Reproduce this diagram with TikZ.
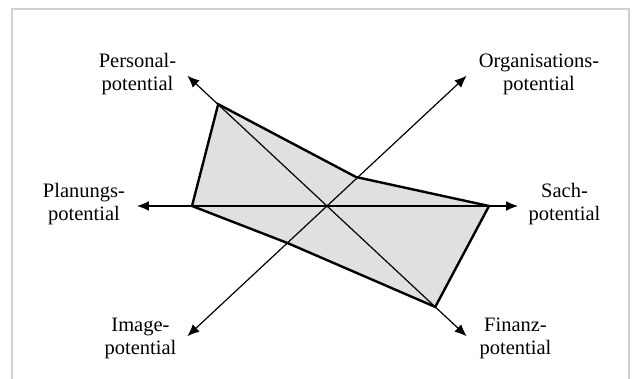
\documentclass[tikz,border=0pt]{standalone}
\usepackage{fontspec}
\setmainfont{Liberation Serif}
\usetikzlibrary{arrows.meta}
\begin{document}
\begin{tikzpicture}[x=1pt,y=1pt,>={Latex[length=12pt,width=10pt]},
    axis/.style={->,line width=1.4pt},
    area/.style={line width=2.4pt,line join=miter,fill=black!12},
    label/.style={align=center,font=\fontsize{20.5}{23}\selectfont,inner sep=0pt}]
      \useasboundingbox (-327,-172) rectangle (307,206);
      \draw[black!18,line width=2pt] (-315,-180) -- (-315,197) -- (302,197) -- (302,-180);
      \coordinate (O) at (0,0);
      % tips of the axes
      \coordinate (sach) at (0:191);
      \coordinate (org) at (43:191);
      \coordinate (pers) at (137:191);
      \coordinate (plan) at (180:190);
      \coordinate (image) at (223:191);
      \coordinate (fin) at (317:191);
      % values
      \coordinate (vsach) at (0:162);
      \coordinate (vorg) at (45:41);
      \coordinate (vpers) at (136.9:149);
      \coordinate (vplan) at (180:135);
      \coordinate (vimage) at (223.5:54);
      \coordinate (vfin) at (317:148);
      \draw[area] (vsach) -- (vorg) -- (vpers) -- (vplan) -- (vimage) -- (vfin) -- cycle;
      \draw[axis] (O) -- (sach);
      \draw[axis] (O) -- (plan);
      \draw[axis,line width=1.2pt] (O) -- (org);
      \draw[axis,line width=1.2pt] (O) -- (pers);
      \draw[axis,line width=1.2pt] (O) -- (image);
      \draw[axis,line width=1.2pt] (O) -- (fin);
      \node[label] (lpers) at (-189.5,131.5) {Personal-\\potential};
      \node[label] (lorg) at (212,131.5) {Organisations-\\potential};
      \node[label] (lplan) at (-243,1.5) {Planungs-\\potential};
      \node[label] (lsach) at (237.5,1.5) {Sach-\\potential};
      \node[label] (limage) at (-186.5,-132.5) {Image-\\potential};
      \node[label] (lfin) at (188.5,-132.5) {Finanz-\\potential};
    \end{tikzpicture}
\end{document}
